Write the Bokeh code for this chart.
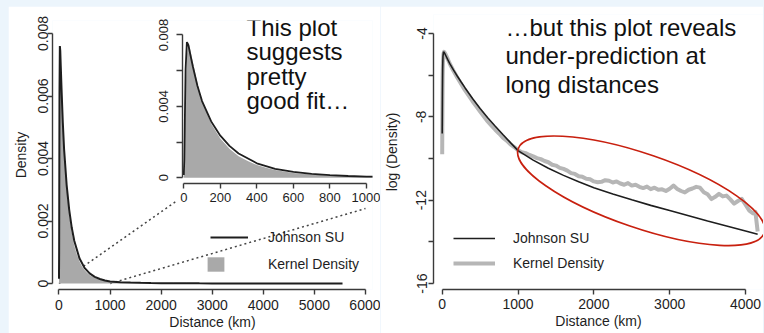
import numpy as np
from bokeh.plotting import figure
from bokeh.models import (Range1d, LinearAxis, FixedTicker, Legend, LegendItem,
                          Label, GridBox)
from bokeh.layouts import row
from bokeh.embed import file_html
from bokeh.resources import INLINE

FONT = "Liberation Sans"
INK = "#1e1e1e"
AXIS = "#3a3a3a"
GRAY_FILL = "#a9a9a9"
GRAY_LINE = "#b6b6b6"
RED = "#c8200f"
BG = "#ecf5fc"

# ---------------- data ----------------
# Johnson SU fit: natural log of density vs distance (km)
su_km = [0, 3, 6, 10, 17, 25, 35, 50, 75, 100, 150, 200, 250, 300, 400, 500,
         600, 700, 800, 900, 1000, 1200, 1400, 1600, 1800, 2000, 2250, 2500,
         2750, 3000, 3250, 3500, 3750, 4000, 4160, 4500, 5000, 5550]
su_log = [-8.8, -6.9, -5.7, -5.1, -4.88, -4.9, -4.97, -5.08, -5.27, -5.45,
          -5.76, -6.05, -6.33, -6.6, -7.12, -7.6, -8.04, -8.45, -8.85, -9.24,
          -9.62, -10.08, -10.47, -10.81, -11.12, -11.4, -11.7, -11.98,
          -12.25, -12.5, -12.75, -13.0, -13.24, -13.48, -13.64, -14.0,
          -14.5, -15.0]

# Kernel density estimate: natural log of density vs distance (km)
kd_km = [0, 3, 6, 10, 17, 25, 35, 50, 75, 100, 150, 200, 250, 300, 350, 400,
         450, 500, 550, 600, 650, 700, 750, 800, 850, 900, 950, 1000, 1050,
         1100, 1150, 1200, 1250, 1300, 1350, 1400, 1450, 1500, 1550, 1600,
         1650, 1700, 1750, 1800, 1850, 1900, 1950, 2000, 2050, 2100, 2150,
         2200, 2250, 2300, 2350, 2400, 2450, 2500, 2550, 2600, 2650, 2700,
         2750, 2800, 2850, 2900, 2950, 3000, 3050, 3100, 3150, 3200, 3250,
         3300, 3350, 3400, 3450, 3500, 3550, 3600, 3650, 3700, 3750, 3800,
         3850, 3900, 3950, 4000, 4050, 4100, 4130, 4160, 4500, 5000, 5550]
kd_log = [-9.8, -7.6, -6.1, -5.35, -4.98, -4.88, -4.93, -5.04, -5.24, -5.45,
          -5.8, -6.12, -6.42, -6.72, -6.98, -7.25, -7.5, -7.75, -7.98, -8.22,
          -8.42, -8.62, -8.8, -9.0, -9.14, -9.32, -9.45, -9.6, -9.7, -9.74,
          -9.83, -9.9, -9.98, -10.03, -10.12, -10.18, -10.3, -10.34, -10.45,
          -10.5, -10.58, -10.7, -10.74, -10.85, -10.88, -10.97, -11.0, -11.1,
          -11.14, -11.12, -11.04, -11.07, -11.15, -11.1, -11.2, -11.26,
          -11.18, -11.3, -11.26, -11.36, -11.42, -11.35, -11.47, -11.4, -11.5,
          -11.48, -11.56, -11.45, -11.3, -11.46, -11.56, -11.63, -11.5,
          -11.44, -11.36, -11.4, -11.62, -11.72, -11.95, -11.84, -11.7,
          -11.82, -11.78, -11.96, -12.17, -12.04, -11.94, -12.22, -12.5,
          -12.64, -12.56, -13.5, -14.3, -14.8, -15.2]

log_plot_max_km = 4160

# tick values and labels
main_xticks = [0, 1000, 2000, 3000, 4000, 5000, 6000]
main_xlabels = ["0", "1000", "2000", "3000", "4000", "5000", "6000"]
main_yticks = [0, 0.002, 0.004, 0.006, 0.008]
main_ylabels = ["0", "0.002", "0.004", "0.006", "0.008"]
inset_xticks = [0, 200, 400, 600, 800, 1000]
inset_xlabels = ["0", "200", "400", "600", "800", "1000"]
inset_yticks = [0, 0.002, 0.004, 0.006, 0.008]
inset_ylabels = ["0", "", "0.004", "", "0.008"]
log_xticks = [0, 1000, 2000, 3000, 4000]
log_xlabels = ["0", "1000", "2000", "3000", "4000"]
log_yticks = [-16, -14, -12, -10, -8, -6, -4]
log_ylabels = ["-16", "", "-12", "", "-8", "", "-4"]

# zoom connector lines (main panel data coordinates)
zoom_x0 = [0, 1000]
zoom_y0 = [0, 0]
zoom_x1 = [2320, 6000]
zoom_y1 = [0.00266, 0.0024]

left_text = ["This plot", "suggests", "pretty", "good fit\u2026"]
right_text = ["\u2026but this plot reveals", "under-prediction at", "long distances"]

su_km_a = np.array(su_km, dtype=float)
su_log_a = np.array(su_log, dtype=float)
kd_km_a = np.array(kd_km, dtype=float)
kd_log_a = np.array(kd_log, dtype=float)
su_dens = np.exp(su_log_a)
kd_dens = np.exp(kd_log_a)


def make_axis(ticks, labels, label=None, size="14px", tick_out=5,
              standoff=2, label_standoff=5, vertical=False):
    ax = LinearAxis(ticker=FixedTicker(ticks=ticks),
                    bounds=(ticks[0], ticks[-1]))
    ax.major_label_overrides = {t: l for t, l in zip(ticks, labels)}
    if label:
        ax.axis_label = label
    ax.axis_line_color = AXIS
    ax.axis_line_width = 1.4
    ax.major_tick_line_color = AXIS
    ax.major_tick_line_width = 1.4
    ax.major_tick_in = 0
    ax.major_tick_out = tick_out
    ax.minor_tick_line_color = None
    ax.major_label_standoff = standoff
    ax.major_label_text_font = FONT
    ax.major_label_text_font_size = size
    ax.major_label_text_color = INK
    ax.axis_label_standoff = label_standoff
    ax.axis_label_text_font = FONT
    ax.axis_label_text_font_size = "14px"
    ax.axis_label_text_font_style = "normal"
    ax.axis_label_text_color = INK
    if vertical:
        ax.major_label_orientation = "vertical"
    return ax


def base_fig(**kw):
    p = figure(output_backend="svg", toolbar_location=None,
               x_axis_location=None, y_axis_location=None,
               outline_line_color=None, **kw)
    for g in p.grid:
        g.visible = False
    return p


leg_common = dict(padding=0, margin=0, border_line_color=None,
                  background_fill_alpha=0, label_text_font=FONT,
                  label_text_font_size="14px", label_text_color=INK,
                  spacing=5)

# ---------------- left main panel ----------------
pL = base_fig(width=372, height=327,
              x_range=Range1d(-127, 6137), y_range=Range1d(-0.000192, 0.008416),
              min_border_left=44, min_border_right=8, min_border_top=14,
              min_border_bottom=44, background_fill_color="white",
              border_fill_color="white")
pL.add_layout(make_axis(main_xticks, main_xlabels, "Distance (km)",
                        standoff=5, label_standoff=1), "below")
pL.add_layout(make_axis(main_yticks, main_ylabels, "Density", standoff=0,
                        label_standoff=6, vertical=True), "left")

pL.segment(x0=zoom_x0, y0=zoom_y0, x1=zoom_x1, y1=zoom_y1,
           line_color="#444444", line_width=1.5, line_dash="2 3")
r_kd_main = pL.varea(x=kd_km_a, y1=0, y2=kd_dens, fill_color=GRAY_FILL)
r_su_main = pL.line(su_km_a, su_dens, line_color=INK, line_width=2)

pL.add_layout(Legend(items=[LegendItem(label="Johnson SU", renderers=[r_su_main])],
                     location=(158, 42), glyph_width=38, glyph_height=20,
                     label_height=20, label_standoff=20, **leg_common))
pL.add_layout(Legend(items=[LegendItem(label="Kernel Density", renderers=[r_kd_main])],
                     location=(153, 16), glyph_width=21, glyph_height=18,
                     label_height=18, label_standoff=42, **leg_common))

# ---------------- inset (zoom of 0-1000 km), transparent ----------------
pI = base_fig(width=260, height=219,
              x_range=Range1d(-7, 1033), y_range=Range1d(-0.000324, 0.008811),
              min_border_left=62, min_border_right=8, min_border_top=8,
              min_border_bottom=42, background_fill_color=None,
              border_fill_color=None)
pI.add_layout(make_axis(inset_xticks, inset_xlabels, size="13px",
                        standoff=4), "below")
pI.add_layout(make_axis(inset_yticks, inset_ylabels, size="13px",
                        tick_out=6, standoff=8, vertical=True), "left")
pI.varea(x=kd_km_a, y1=0, y2=kd_dens, fill_color=GRAY_FILL)
pI.line(su_km_a, su_dens, line_color=INK, line_width=1.8)

for i, t in enumerate(left_text):
    pI.add_layout(Label(x=64, y=156.5 - 24.6 * i, x_units="screen",
                        y_units="screen", text=t, text_font=FONT,
                        text_font_size="24px", text_color="#111111",
                        text_baseline="middle"))

# left card: main plot with the inset laid over it (explicit grid tracks)
left = GridBox(children=[(pL, 0, 0, 2, 2), (pI, 0, 1, 1, 1)],
               cols=["112px", "260px"], rows=["219px", "108px"],
               margin=(6, 0, 0, 8))

# ---------------- right panel (log density) ----------------
pR = base_fig(width=383, height=327,
              x_range=Range1d(-114.7, 4237), y_range=Range1d(-16.288, -3.088),
              min_border_left=53, min_border_right=0, min_border_top=8,
              min_border_bottom=44, background_fill_color="white",
              border_fill_color="white", margin=(6, 1, 0, 0))
pR.add_layout(make_axis(log_xticks, log_xlabels, "Distance (km)",
                        standoff=4, label_standoff=1), "below")
pR.add_layout(make_axis(log_yticks, log_ylabels, "log (Density)",
                        standoff=2, label_standoff=14, vertical=True), "left")

kd_mask = kd_km_a <= log_plot_max_km
su_mask = su_km_a <= log_plot_max_km
r_kd = pR.line(kd_km_a[kd_mask], kd_log_a[kd_mask], line_color=GRAY_LINE,
               line_width=4, line_join="round")
r_su = pR.line(su_km_a[su_mask], su_log_a[su_mask], line_color=INK,
               line_width=1.6)

# highlight ellipse (centre in data units, size in pixels)
ell_x, ell_y, ell_w, ell_h, ell_angle = 2624, -11.55, 260, 74, -0.33
pR.ellipse(x=[ell_x], y=[ell_y], width=[ell_w], height=[ell_h],
           angle=[ell_angle], width_units="screen", height_units="screen",
           fill_color=None, line_color=RED, line_width=1.6)

pR.add_layout(Legend(items=[LegendItem(label="Johnson SU", renderers=[r_su]),
                            LegendItem(label="Kernel Density", renderers=[r_kd])],
                     location=(20, 16), glyph_width=42, glyph_height=20,
                     label_height=20, label_standoff=18, **leg_common))

for i, t in enumerate(right_text):
    pR.add_layout(Label(x=72, y=262.3 - 28.5 * i, x_units="screen",
                        y_units="screen", text=t, text_font=FONT,
                        text_font_size="24px", text_color="#111111",
                        text_baseline="middle"))

root = row(left, pR, styles={"background-color": BG})

open("out.html", "w").write(file_html(root, INLINE))
